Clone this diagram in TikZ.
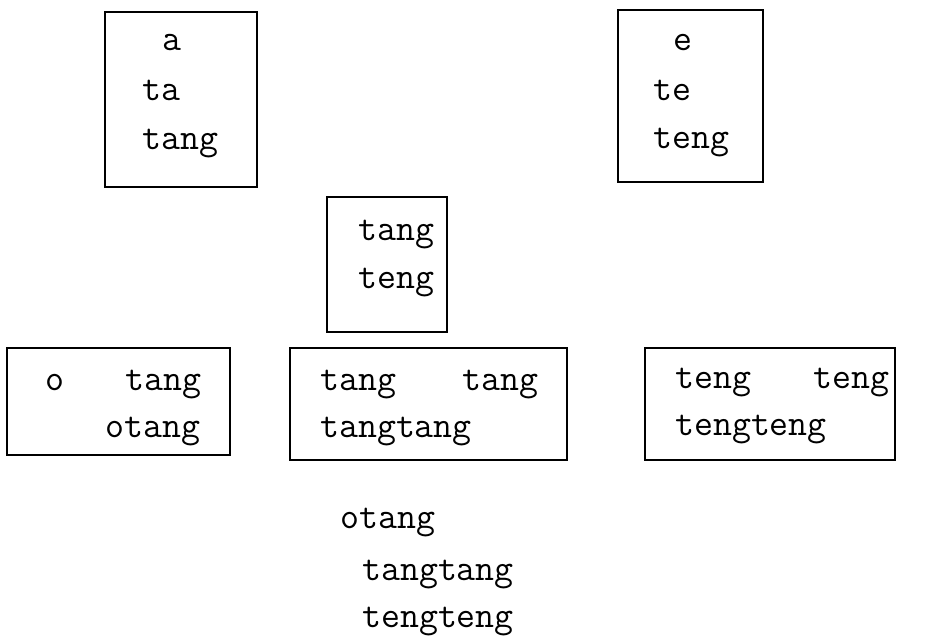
\documentclass[tikz,border=0pt]{standalone}
\usetikzlibrary{positioning}
\tikzset{
  card/.style={line width=1.6pt},
  word/.style={anchor=base west,inner sep=0pt,font=\fontsize{36.8}{49}\selectfont\ttfamily},
}
\begin{document}
\begin{tikzpicture}[x=1pt,y=-1pt]
\useasboundingbox (0,0) rectangle (929,638);
% top row
\draw[card] (105,12) rectangle (257,187);
\node[word] (a) at (162,50) {a};
\node[word] (ta) at (142,100) {ta};
\node[word] (tang) at (142,149) {tang};
\draw[card] (618,10) rectangle (763,182);
\node[word] (e) at (673,50) {e};
\node[word] (te) at (653,100) {te};
\node[word] (teng) at (653,148) {teng};
% middle
\draw[card] (327,197) rectangle (447,332);
\node[word] (midtang) at (358,240) {tang};
\node[word] (midteng) at (358,288) {teng};
% bottom row
\draw[card] (7,348) rectangle (230,455);
\node[word] (o) at (45,390) {o};
\node[word] (otang1) at (125,390) {tang};
\node[word] (otang2) at (105,437) {otang};
\draw[card] (290,348) rectangle (567,460);
\node[word] (tt1) at (320,390) {tang};
\node[word] (tt2) at (462,390) {tang};
\node[word] (tt3) at (320,437) {tangtang};
\draw[card] (645,348) rectangle (895,460);
\node[word] (ee1) at (675,388) {teng};
\node[word] (ee2) at (813,388) {teng};
\node[word] (ee3) at (675,435) {tengteng};
% words below
\node[word] (res1) at (340,528) {otang};
\node[word] (res2) at (362,580) {tangtang};
\node[word] (res3) at (362,627) {tengteng};
\end{tikzpicture}
\end{document}
